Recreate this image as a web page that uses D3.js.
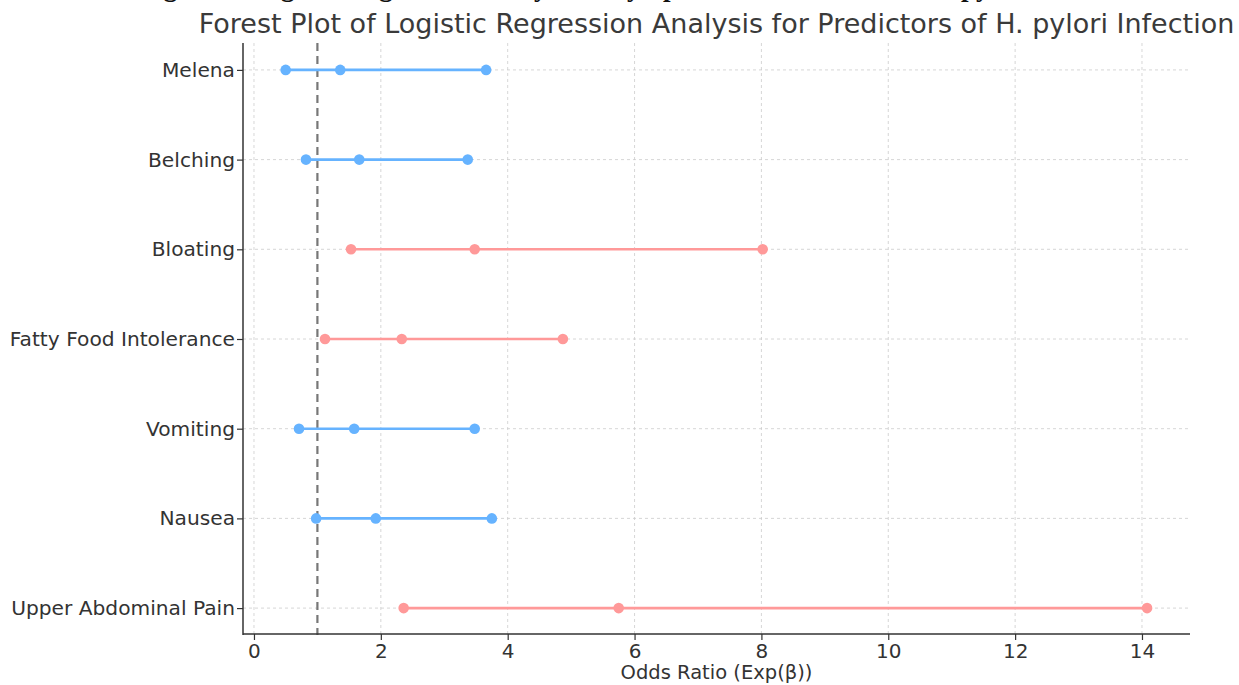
<!DOCTYPE html>
<html><head><meta charset="utf-8">
<script src="https://cdn.jsdelivr.net/npm/d3@7"></script>
<style>html,body{margin:0;padding:0;background:#fff;} svg{display:block;}</style>
</head><body>
<svg id="chart" width="1239" height="685"></svg>
<script>
const categories = ["Upper Abdominal Pain","Nausea","Vomiting","Fatty Food Intolerance","Bloating","Belching","Melena"];
const oddsRatio  = [5.75, 1.92, 1.58, 2.33, 3.48, 1.66, 1.36];
const ciLower    = [2.36, 0.98, 0.71, 1.12, 1.53, 0.82, 0.50];
const ciUpper    = [14.08, 3.75, 3.48, 4.87, 8.02, 3.37, 3.66];
const xTicks     = [0, 2, 4, 6, 8, 10, 12, 14];
const titleText  = "Forest Plot of Logistic Regression Analysis for Predictors of H. pylori Infection";
const captionText = "Figure 2. Logistic Regression Analysis of Symptoms as Predictors of H. pylori Infection";
const xLabel = "Odds Ratio (Exp(β))";

const svg = d3.select("#chart");
const m = {left:243, right:1190, top:43, bottom:635};
const x = d3.scaleLinear().domain([-0.173, 14.757]).range([m.left, m.right]);
const y = d3.scaleLinear().domain([-0.3, categories.length - 0.7]).range([m.bottom, m.top]);
const font = "'DejaVu Sans', sans-serif";
const blue = "#66b3ff", red = "#ff9999";

// clipped caption at top (only descenders visible, as in the source image)
svg.append("text").attr("x", 640).attr("y", -4).attr("text-anchor","middle")
  .attr("font-family","'Liberation Serif', serif").attr("font-weight","bold").attr("font-size",27)
  .attr("fill","#111").text(captionText);

// grid
const g = svg.append("g");
g.selectAll("line.vg").data(xTicks).join("line")
  .attr("x1", d=>x(d)).attr("x2", d=>x(d)).attr("y1", m.top).attr("y2", m.bottom)
  .attr("stroke","#cccccc").attr("stroke-width",0.8).attr("stroke-dasharray","3,3");
g.selectAll("line.hg").data(categories).join("line")
  .attr("x1", m.left).attr("x2", m.right).attr("y1",(d,i)=>y(i)).attr("y2",(d,i)=>y(i))
  .attr("stroke","#cccccc").attr("stroke-width",0.8).attr("stroke-dasharray","3,3");

// reference line at 1
svg.append("line").attr("x1", x(1)).attr("x2", x(1)).attr("y1", m.top).attr("y2", m.bottom)
  .attr("stroke","#777").attr("stroke-width",2.2).attr("stroke-dasharray","8,5");

// CI lines and points
const rows = categories.map((c,i)=>({c, i, or:oddsRatio[i], lo:ciLower[i], hi:ciUpper[i],
  col: ciLower[i] > 1 ? red : blue}));
svg.selectAll("line.ci").data(rows).join("line")
  .attr("x1", d=>x(d.lo)).attr("x2", d=>x(d.hi)).attr("y1", d=>y(d.i)).attr("y2", d=>y(d.i))
  .attr("stroke", d=>d.col).attr("stroke-width",2.6);
rows.forEach(d=>{
  svg.selectAll(null).data([d.lo, d.or, d.hi]).join("circle")
    .attr("cx", v=>x(v)).attr("cy", y(d.i)).attr("r",5.3).attr("fill", d.col);
});

// axes
const xAxis = svg.append("g").attr("transform", `translate(0,${m.bottom - 1})`)
  .call(d3.axisBottom(x).tickValues(xTicks).tickSize(6).tickPadding(4).tickFormat(d3.format("d")));
xAxis.select(".domain").attr("d", `M${m.left},0H${m.right}`).attr("stroke","#333").attr("stroke-width",1.5);
xAxis.selectAll(".tick line").attr("stroke","#333").attr("stroke-width",1.2);
xAxis.selectAll(".tick text").attr("font-family",font).attr("font-size",20).attr("fill","#333");

const yAxis = svg.append("g").attr("transform", `translate(${m.left},0)`)
  .call(d3.axisLeft(y).tickValues(d3.range(categories.length)).tickSize(6).tickPadding(2).tickFormat(i=>categories[i]));
yAxis.select(".domain").attr("d", `M0,${m.top}V${m.bottom}`).attr("stroke","#333").attr("stroke-width",1.5);
yAxis.selectAll(".tick line").attr("stroke","#333").attr("stroke-width",1.2);
yAxis.selectAll(".tick text").attr("font-family",font).attr("font-size",20.2).attr("fill","#333");

// labels
svg.append("text").attr("x",(m.left+m.right)/2).attr("y",679).attr("text-anchor","middle")
  .attr("font-family",font).attr("font-size",19.5).attr("fill","#333").text(xLabel);
svg.append("text").attr("x",(m.left+m.right)/2).attr("y",33).attr("text-anchor","middle")
  .attr("font-family",font).attr("font-size",27).attr("fill","#3a3a3a").text(titleText);
</script>
</body></html>
